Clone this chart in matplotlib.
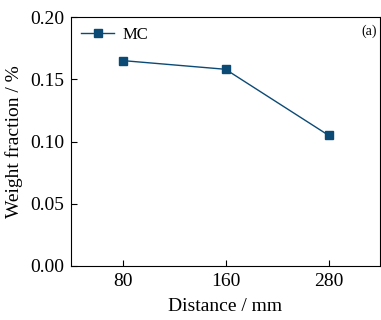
import matplotlib
matplotlib.use("Agg")
import matplotlib.pyplot as plt

categories = ["80", "160", "280"]
mc_values = [0.165, 0.158, 0.105]
yticks = [0.00, 0.05, 0.10, 0.15, 0.20]

plt.rcParams['font.family'] = ['Liberation Serif', 'DejaVu Serif']
plt.rcParams['mathtext.fontset'] = 'stix'

fig = plt.figure(figsize=(3.81, 3.20), dpi=100)
ax = fig.add_axes([71/381, 1-266/320, 309/381, 249/320])
x = list(range(len(categories)))
color = '#0b4a75'
ax.plot(x, mc_values, '-s', color=color, markersize=6, linewidth=1.0, label='MC')
ax.set_xlim(-0.5, 2.5)
ax.set_ylim(0, 0.20)
ax.set_xticks(x)
ax.set_xticklabels(categories)
ax.set_yticks(yticks)
ax.set_yticklabels([f"{v:.2f}" for v in yticks])
ax.tick_params(direction='in', labelsize=14, length=4, width=0.8, top=False, right=False, pad=5)
ax.set_xlabel('Distance / mm', fontsize=14, labelpad=6)
ax.set_ylabel('Weight fraction / %', fontsize=14, labelpad=5)
for s in ax.spines.values():
    s.set_linewidth(0.8)
ax.legend(loc='upper left', frameon=False, fontsize=12, handlelength=2.0,
          borderaxespad=0.2, handletextpad=0.5)
ax.text(0.99, 0.97, '(a)', transform=ax.transAxes, ha='right', va='top', fontsize=10)
fig.savefig('out.png', dpi=100)
